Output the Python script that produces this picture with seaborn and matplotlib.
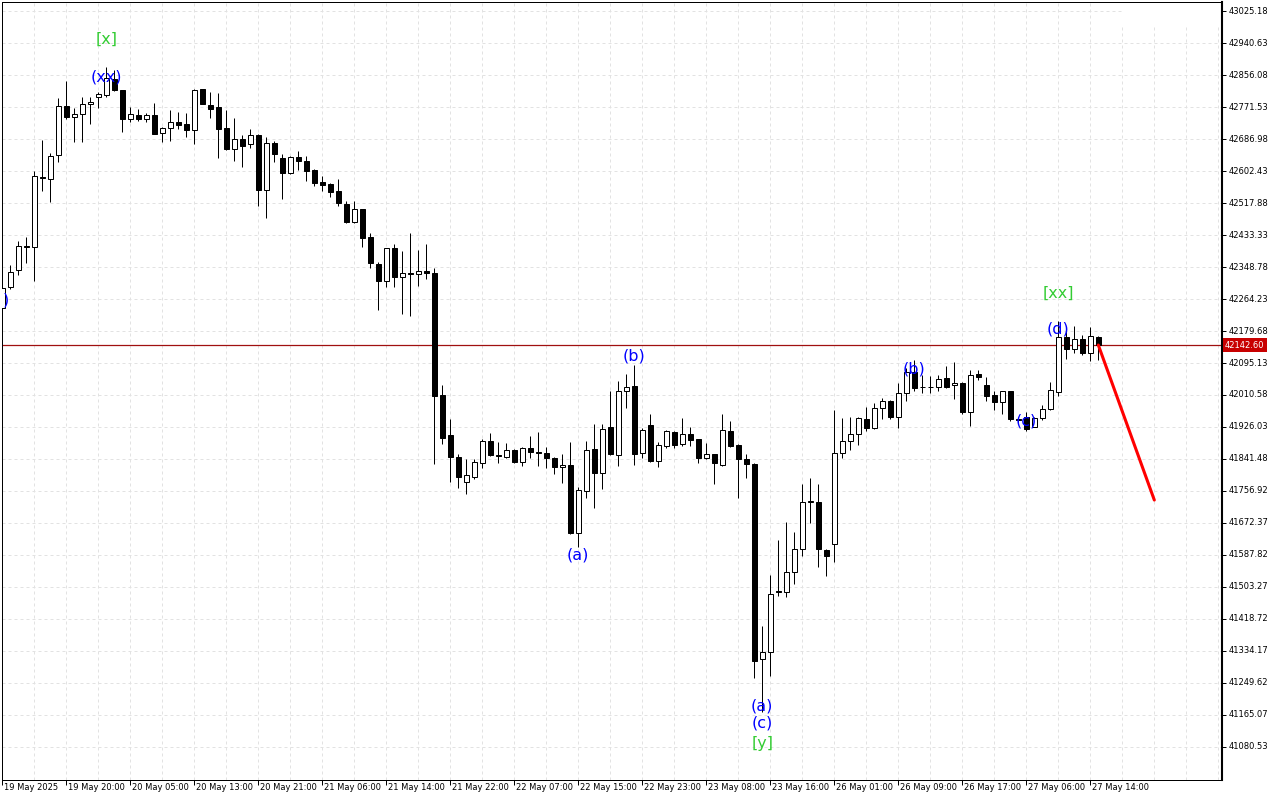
#Dow Jones hourly candles with wave labels (MT-style chart)

import numpy as np
import matplotlib
matplotlib.use('Agg')
import matplotlib.pyplot as plt
import matplotlib.transforms as mtransforms
from matplotlib.patches import Rectangle
import seaborn as sns

#candle data, one hourly bar each
opens = [
    42240, 42296, 42341, 42404, 42402, 42586, 42581, 42645, 42774, 42745,
    42753, 42779, 42798, 42803, 42846, 42816, 42740, 42750, 42740, 42750,
    42703, 42716, 42732, 42727, 42711, 42819, 42777, 42772, 42716, 42661,
    42687, 42674, 42698, 42552, 42676, 42637, 42597, 42639, 42629, 42605,
    42573, 42568, 42550, 42515, 42468, 42502, 42428, 42357, 42312, 42399,
    42322, 42332, 42330, 42338, 42333, 42010, 41905, 41847, 41781, 41794,
    41831, 41889, 41852, 41847, 41865, 41834, 41870, 41860, 41857, 41844,
    41820, 41826, 41646, 41757, 41868, 41804, 41926, 41852, 42021, 42034,
    41857, 41931, 41836, 41876, 41913, 41881, 41907, 41894, 41844, 41855,
    41826, 41915, 41878, 41841, 41828, 41313, 41332, 41494, 41490, 41543,
    41604, 41728, 41728, 41601, 41617, 41857, 41889, 41907, 41947, 41923,
    41976, 41995, 41952, 42016, 42071, 42031, 42032, 42032, 42055, 42037,
    42042, 41966, 42066, 42037, 42010, 41992, 42021, 41947, 41952, 41926,
    41950, 41974, 42018, 42164, 42132, 42159, 42122, 42164]
highs = [
    42304, 42354, 42418, 42428, 42602, 42684, 42650, 42795, 42840, 42769,
    42798, 42798, 42811, 42877, 42869, 42817, 42772, 42766, 42756, 42782,
    42719, 42764, 42758, 42756, 42819, 42820, 42811, 42809, 42764, 42742,
    42698, 42713, 42699, 42692, 42682, 42647, 42641, 42655, 42642, 42608,
    42589, 42571, 42581, 42523, 42523, 42503, 42439, 42362, 42400, 42410,
    42391, 42439, 42394, 42410, 42346, 42037, 41947, 41855, 41841, 41842,
    41894, 41910, 41886, 41884, 41868, 41873, 41902, 41912, 41873, 41846,
    41855, 41886, 41767, 41889, 41934, 41934, 42021, 42048, 42066, 42090,
    41923, 41960, 41886, 41917, 41916, 41950, 41926, 41895, 41884, 41856,
    41960, 41942, 41880, 41855, 41830, 41400, 41535, 41627, 41675, 41649,
    41775, 41791, 41775, 41604, 41971, 41950, 41952, 41953, 41979, 41989,
    42003, 41997, 42042, 42082, 42103, 42063, 42061, 42063, 42087, 42098,
    42045, 42077, 42077, 42058, 42021, 42022, 42022, 41953, 41966, 41952,
    41984, 42045, 42206, 42191, 42193, 42170, 42191, 42167]
lows = [
    42230, 42291, 42328, 42359, 42312, 42550, 42521, 42626, 42740, 42679,
    42679, 42727, 42769, 42798, 42814, 42705, 42732, 42735, 42732, 42699,
    42679, 42682, 42713, 42692, 42674, 42779, 42742, 42637, 42658, 42629,
    42613, 42663, 42510, 42478, 42626, 42528, 42594, 42605, 42576, 42563,
    42550, 42534, 42510, 42465, 42465, 42402, 42346, 42235, 42296, 42296,
    42225, 42219, 42299, 42317, 41828, 41881, 41781, 41765, 41749, 41788,
    41818, 41849, 41831, 41844, 41831, 41823, 41844, 41823, 41818, 41802,
    41778, 41643, 41609, 41738, 41712, 41762, 41852, 41823, 41976, 41826,
    41844, 41834, 41820, 41870, 41870, 41876, 41876, 41831, 41841, 41775,
    41824, 41873, 41738, 41791, 41263, 41173, 41268, 41480, 41477, 41511,
    41585, 41672, 41557, 41532, 41568, 41844, 41865, 41878, 41915, 41922,
    41947, 41947, 41923, 41995, 42021, 42016, 42016, 42021, 42029, 42000,
    41960, 41929, 42050, 41995, 41971, 41960, 41942, 41937, 41915, 41925,
    41944, 41972, 42008, 42106, 42122, 42117, 42100, 42103]
closes = [
    42293, 42336, 42404, 42402, 42589, 42584, 42642, 42774, 42745, 42753,
    42779, 42785, 42806, 42848, 42816, 42740, 42753, 42740, 42750, 42700,
    42716, 42732, 42724, 42711, 42816, 42779, 42766, 42713, 42661, 42687,
    42669, 42698, 42552, 42676, 42647, 42597, 42639, 42629, 42602, 42571,
    42565, 42547, 42518, 42468, 42502, 42425, 42359, 42312, 42399, 42322,
    42333, 42330, 42338, 42333, 42008, 41897, 41847, 41794, 41799, 41834,
    41889, 41852, 41849, 41865, 41834, 41870, 41860, 41857, 41844, 41820,
    41826, 41646, 41760, 41865, 41804, 41921, 41855, 42021, 42032, 41855,
    41918, 41836, 41878, 41915, 41878, 41907, 41892, 41844, 41855, 41831,
    41918, 41876, 41841, 41828, 41308, 41332, 41485, 41490, 41543, 41604,
    41728, 41730, 41604, 41585, 41857, 41889, 41907, 41950, 41923, 41976,
    41995, 41952, 42016, 42071, 42029, 42032, 42031, 42053, 42032, 42042,
    41966, 42063, 42058, 42008, 41992, 42021, 41947, 41944, 41921, 41950,
    41974, 42024, 42164, 42132, 42159, 42122, 42167, 42142.6]

#axis labels
price_ticks = [43025.18, 42940.63, 42856.08, 42771.53, 42686.98, 42602.43,
               42517.88, 42433.33, 42348.78, 42264.23, 42179.68, 42095.13,
               42010.58, 41926.03, 41841.48, 41756.92, 41672.37, 41587.82,
               41503.27, 41418.72, 41334.17, 41249.62, 41165.07, 41080.53]
time_labels = ['19 May 2025', '19 May 20:00', '20 May 05:00', '20 May 13:00',
               '20 May 21:00', '21 May 06:00', '21 May 14:00', '21 May 22:00',
               '22 May 07:00', '22 May 15:00', '22 May 23:00', '23 May 08:00',
               '23 May 16:00', '26 May 01:00', '26 May 09:00', '26 May 17:00',
               '27 May 06:00', '27 May 14:00']

#wave labels: text, bar index, price, colour
wave_labels = [
    ('[x]', 13, 42951, 'green'), ('(xx)', 13, 42851, 'blue'),
    (')', 0.5, 42262, 'blue'),
    ('(a)', 72, 41588, 'blue'), ('(b)', 79, 42113, 'blue'),
    ('(a)', 95, 41189, 'blue'), ('(c)', 95, 41144, 'blue'), ('[y]', 95, 41091, 'green'),
    ('(b)', 114, 42079, 'blue'), ('(c)', 128, 41942, 'blue'),
    ('[xx]', 132, 42280, 'green'), ('(d)', 132, 42185, 'blue'),
]

#projected move
forecast_idx = [137, 144]
forecast_price = [42142.6, 41733]

sns.set_style('white')
plt.rcParams['font.family'] = ['DejaVu Sans']

fig = plt.figure(figsize=(12.8, 8), dpi=100)
ax = fig.add_axes([2.3 / 1280, 1 - 780 / 800, 1219.7 / 1280, 777.7 / 800])

n = len(opens)
idx = np.arange(n)
o = np.array(opens, float)
c = np.array(closes, float)
px = 0.72  # one pixel in points

#grid
for i in range(4, 153, 4):
    ax.axvline(i, color='#e2e2e2', lw=px, ls=(0, (3, 3)), zorder=0)
for p in price_ticks:
    ax.axhline(p, color='#e2e2e2', lw=px, ls=(0, (3, 3)), zorder=0)
ax.add_patch(Rectangle((0.918, 0.9708), 0.082, 0.03, transform=ax.transAxes,
                       facecolor='white', edgecolor='none', zorder=0.5))

#candles
ax.vlines(idx, lows, highs, color='black', lw=px, zorder=2)
up = c >= o
bottoms = np.minimum(o, c)
heights = np.maximum(np.abs(c - o), 0.3)
ax.bar(idx[up], heights[up], bottom=bottoms[up], width=0.58,
       color='white', edgecolor='black', linewidth=px, zorder=3)
ax.bar(idx[~up], heights[~up], bottom=bottoms[~up], width=0.58,
       color='black', edgecolor='black', linewidth=px, zorder=3)

#current price line and forecast
ax.axhline(closes[-1], color='#a01010', lw=0.9, zorder=1.5)
sns.lineplot(x=forecast_idx, y=forecast_price, color='#ff0000', lw=2.2, ax=ax, zorder=4)

for txt, xi, yp, col in wave_labels:
    colour = '#0000ff' if col == 'blue' else '#33cc33'
    ax.text(xi, yp, txt, color=colour, fontsize=11.5, ha='center', va='center',
            zorder=5)

ax.set_xlim(0, 152.46)
ax.set_ylim(40993.3, 43048.2)

#axes
ax.yaxis.tick_right()
ax.set_yticks(price_ticks)
ax.set_yticklabels([f'{p:.2f}' for p in price_ticks])
ax.set_xticks(list(range(0, 8 * len(time_labels), 8)))
ax.set_xticklabels(time_labels)
ax.tick_params(axis='y', which='major', right=True, left=False, length=3, width=px,
               pad=1.5, labelsize=6, colors='black')
ax.tick_params(axis='x', which='major', bottom=True, length=3.6, width=px,
               pad=-1.2, labelsize=6, colors='black')
for lab in ax.get_xticklabels():
    lab.set_ha('left')
    lab.set_transform(lab.get_transform() + mtransforms.ScaledTranslation(2 / 100, 0, fig.dpi_scale_trans))
for lab in ax.get_yticklabels():
    lab.set_va('center')

for s in ax.spines.values():
    s.set_color('black')
    s.set_linewidth(px)
ax.spines['right'].set_linewidth(1.5)
ax.set_xlabel('')
ax.set_ylabel('')
if ax.get_legend():
    ax.get_legend().remove()

#current price tag
trans = mtransforms.blended_transform_factory(ax.transAxes, ax.transData)
ax.text(1.0025, closes[-1], f'{closes[-1]:.2f}', transform=trans, color='white',
        fontsize=6, ha='left', va='center', zorder=6, clip_on=False,
        bbox=dict(boxstyle='square,pad=0.3', facecolor='#c80000', edgecolor='none'))

fig.savefig('out.png', dpi=100)
